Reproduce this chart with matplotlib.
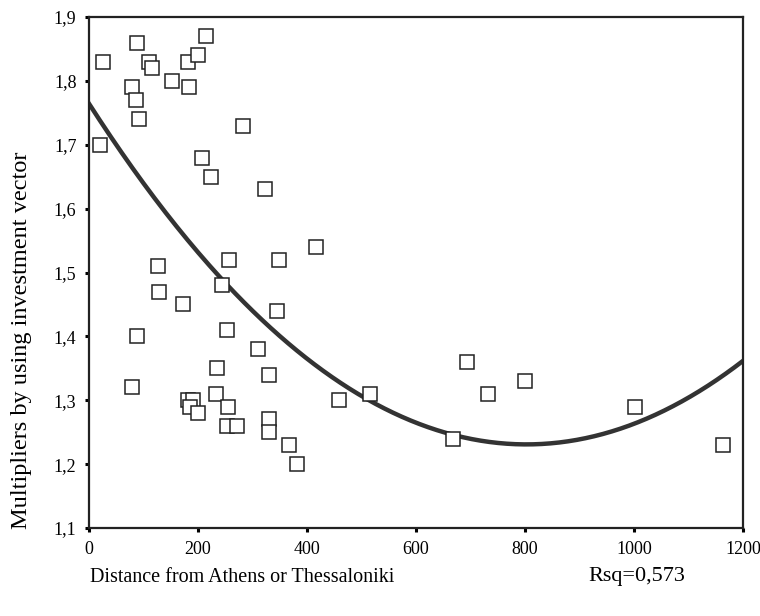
import numpy as np
import matplotlib
matplotlib.use("Agg")
import matplotlib.pyplot as plt
from matplotlib.ticker import FuncFormatter

plt.rcParams['font.family'] = ['Liberation Serif', 'DejaVu Serif']

distance = [20, 26, 88, 110, 116, 152, 182, 200, 215, 79, 86, 92, 183, 283, 207,
            224, 323, 417, 257, 349, 127, 244, 128, 172, 345, 253, 88, 310, 235,
            330, 79, 181, 191, 185, 200, 233, 255, 253, 271, 330, 330, 367, 382,
            459, 516, 693, 800, 732, 1002, 1163, 668]
multiplier = [1.70, 1.83, 1.86, 1.83, 1.82, 1.80, 1.83, 1.84, 1.87, 1.79, 1.77, 1.74,
              1.79, 1.73, 1.68, 1.65, 1.63, 1.54, 1.52, 1.52, 1.51, 1.48, 1.47, 1.45,
              1.44, 1.41, 1.40, 1.38, 1.35, 1.34, 1.32, 1.30, 1.30, 1.29, 1.28, 1.31,
              1.29, 1.26, 1.26, 1.27, 1.25, 1.23, 1.20, 1.30, 1.31, 1.36, 1.33, 1.31,
              1.29, 1.23, 1.24]

x_ticks = [0, 200, 400, 600, 800, 1000, 1200]
y_ticks = [1.1, 1.2, 1.3, 1.4, 1.5, 1.6, 1.7, 1.8, 1.9]

x = np.array(distance)
y = np.array(multiplier)
coef = np.polyfit(x, y, 2)
xs = np.linspace(0, 1200, 300)
ys = np.polyval(coef, xs)

fig = plt.figure(figsize=(7.6, 6.16), dpi=100)
ax = fig.add_axes([89/760, 1-528/616, (743-89)/760, (528-17)/616])

ax.plot(xs, ys, color='#333333', lw=3.2, zorder=2)
ax.plot(x, y, linestyle='none', marker='s', markersize=9.5, markerfacecolor='white',
        markeredgecolor='#222222', markeredgewidth=1.1, zorder=3)

ax.set_xlim(0, 1200)
ax.set_ylim(1.1, 1.9)
ax.set_xticks(x_ticks)
ax.set_yticks(y_ticks)
ax.yaxis.set_major_formatter(FuncFormatter(lambda v, p: f"{v:.1f}".replace('.', ',')))
ax.tick_params(direction='out', length=3, width=2.2, labelsize=13, pad=6, colors='black')
for s in ax.spines.values():
    s.set_linewidth(1.6)
    s.set_color('#222222')

fig.text(90/760, 1-577/616, 'Distance from Athens or Thessaloniki', fontsize=14.5,
         ha='left', va='center')
fig.text(588/760, 1-577/616, 'Rsq=0,573', fontsize=16, ha='left', va='center')
fig.text(22/760, 1-340/616, 'Multipliers by using investment vector', fontsize=17.5,
         rotation=90, ha='center', va='center')

fig.savefig('out.png', dpi=100)
